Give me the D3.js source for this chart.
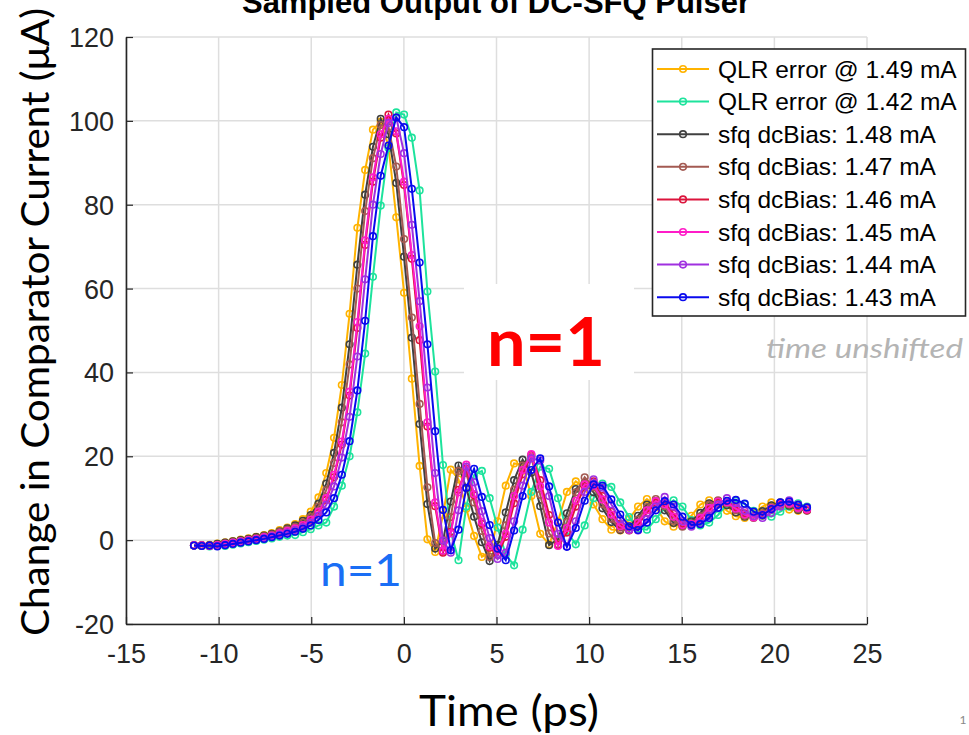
<!DOCTYPE html>
<html><head><meta charset="utf-8">
<script src="https://cdn.jsdelivr.net/npm/d3@7"></script>
<style>body{margin:0;background:#fff;} svg{display:block;}</style>
</head><body><svg id="c" width="969" height="735"></svg>
<script>
// ---- data ----
const timePs = [-11.33,-10.91,-10.49,-10.07,-9.65,-9.23,-8.81,-8.39,-7.97,-7.55,
-7.13,-6.71,-6.29,-5.87,-5.45,-5.03,-4.61,-4.19,-3.77,-3.35,
-2.93,-2.51,-2.09,-1.67,-1.25,-0.83,-0.41,0.01,0.43,0.85,
1.27,1.69,2.11,2.53,2.95,3.37,3.79,4.21,4.63,5.06,
5.50,5.95,6.41,6.88,7.36,7.84,8.32,8.80,9.28,9.76,
10.24,10.72,11.20,11.68,12.16,12.64,13.12,13.60,14.08,14.56,
15.04,15.52,16.00,16.48,16.96,17.44,17.92,18.40,18.88,19.36,
19.84,20.32,20.80,21.28,21.76];

const qlr149 = [-1.2,-1.4,-1.1,-0.8,-0.5,-0.2,0.1,0.4,0.8,1.2,
1.7,2.4,3.0,3.8,5.0,6.8,10.2,16.0,24.4,37.0,
54.0,74.5,88.3,97.9,99.8,94.0,77.0,59.0,38.5,17.7,
0.2,-2.8,6.0,16.8,14.5,7.5,1.0,-4.0,-3.0,4.5,
13.0,18.3,18.0,10.5,1.5,-1.0,4.5,11.5,14.0,12.5,
8.5,5.0,2.5,2.3,5.0,8.0,9.8,8.0,4.5,3.2,
4.0,5.8,8.5,9.5,8.8,7.0,5.7,5.3,6.5,8.0,
9.0,8.5,7.3,7.0,7.5];

const qlr142 = [-1.3,-1.4,-1.5,-1.3,-1.4,-1.1,-0.8,-0.5,-0.2,0.1,
0.4,0.8,1.1,1.2,1.9,2.6,3.5,4.2,8.0,13.0,
20.0,30.5,44.5,62.8,79.8,93.5,102.0,101.5,96.0,83.4,
59.3,40.2,17.9,2.0,-4.8,8.0,15.5,16.5,10.0,3.0,
-3.5,-6.0,2.5,11.5,17.5,17.0,10.0,2.0,-1.0,3.5,
10.0,13.5,12.7,9.0,5.5,2.8,2.5,5.0,7.8,9.5,
8.0,4.8,3.5,4.2,6.0,8.5,9.4,8.6,7.0,5.8,
5.6,6.8,8.0,8.8,8.0];

const sfq148 = [-1.3,-1.3,-1.2,-0.9,-0.6,-0.3,0.0,0.3,0.7,1.1,
1.5,2.1,2.8,3.5,4.6,6.0,8.7,13.5,20.8,31.6,
46.7,65.7,82.4,93.8,100.5,96.8,85.2,67.6,48.3,27.7,
8.6,-2.0,-0.2,9.2,17.8,12.4,5.6,-0.5,-5.0,-1.1,
6.6,14.3,19.2,16.1,8.1,-1.2,0.2,6.4,12.2,13.6,
11.4,7.6,4.3,2.4,3.0,5.8,8.5,9.3,7.1,4.1,
3.4,4.5,6.5,8.8,9.3,8.3,6.6,5.6,5.6,6.9,
8.3,8.9,8.2,7.2,7.1];

const sfq147 = [-1.3,-1.3,-1.4,-1.1,-0.8,-0.5,-0.2,0.1,0.5,0.9,
1.3,1.9,2.5,3.2,4.2,5.5,8.0,11.9,18.4,28.1,
41.9,60.0,78.5,91.1,99.0,98.5,89.1,71.8,53.1,32.5,
12.6,-0.7,-2.6,5.5,16.5,16.0,9.0,2.2,-4.0,-3.5,
3.5,12.0,17.8,19.8,10.8,1.6,-1.0,4.3,11.4,15.0,
12.6,8.6,5.1,2.6,2.3,4.9,7.9,9.8,8.1,4.6,
3.2,4.0,5.7,8.4,9.5,8.8,7.1,5.8,5.3,6.4,
7.9,9.0,8.5,7.4,7.0];

const sfq146 = [-1.3,-1.2,-1.4,-1.3,-1.0,-0.7,-0.4,-0.1,0.2,0.6,
1.0,1.5,2.1,2.7,3.5,4.7,6.5,9.6,15.0,22.8,
34.5,50.6,70.4,85.5,96.0,101.5,97.0,84.7,67.1,47.7,
27.1,8.1,-3.0,2.0,12.0,17.0,10.7,3.9,-1.8,-3.5,
0.8,8.8,15.7,20.3,14.3,6.0,-1.2,1.8,8.0,12.8,
14.0,10.5,6.8,3.8,2.4,3.7,6.5,8.9,8.9,6.3,
3.9,3.6,4.9,7.2,9.0,9.2,7.9,6.4,5.5,5.9,
7.3,8.5,8.8,7.9,7.2];

const sfq145 = [-1.2,-1.3,-1.4,-1.2,-0.9,-0.6,-0.3,0.0,0.3,0.7,
1.1,1.6,2.2,2.8,3.6,4.9,6.8,10.0,15.6,23.5,
35.4,52.0,71.5,86.5,96.8,100.5,97.5,85.5,68.0,51.0,
28.1,9.0,-2.5,1.6,11.4,18.0,11.0,4.3,-1.5,-2.5,
1.5,10.5,16.7,20.5,12.8,4.2,-1.4,2.9,9.4,13.3,
13.0,9.7,6.1,3.3,2.4,4.2,7.1,9.3,8.5,5.6,
3.6,3.8,5.3,7.7,9.2,9.0,7.5,6.1,5.4,6.1,
7.6,8.7,8.7,7.7,7.3];

const sfq144 = [-1.3,-1.3,-1.3,-1.4,-1.1,-0.8,-0.5,-0.2,0.1,0.5,
0.9,1.3,1.8,2.4,3.1,4.2,5.8,8.4,12.8,19.7,
29.4,43.8,62.2,80.0,92.1,99.5,100.8,92.3,75.2,57.0,
36.4,16.0,-0.1,-3.0,7.1,17.5,13.8,6.9,0.5,-4.5,
-3.0,4.5,13.0,19.5,19.0,10.5,1.5,-1.5,4.5,11.5,
14.5,12.5,8.5,5.0,2.5,2.3,5.0,8.0,10.3,8.0,
4.5,3.2,4.0,5.8,8.5,10.0,8.8,7.0,5.7,5.3,
6.5,8.0,9.5,8.5,7.8];

const sfq143 = [-1.3,-1.4,-1.3,-1.5,-1.2,-0.9,-0.6,-0.3,0.0,0.3,
0.7,1.1,1.5,2.0,2.7,3.5,4.8,6.6,10.0,15.6,
23.6,35.7,52.3,72.5,86.9,94.1,100.8,98.5,83.8,66.2,
46.7,26.0,7.2,-2.4,2.5,12.5,17.0,10.3,3.6,-2.0,
-4.8,2.3,10.5,16.7,19.5,12.8,4.2,-1.6,2.9,9.4,
13.3,13.0,9.7,6.1,3.3,2.4,4.2,7.1,9.3,8.5,
5.6,3.6,3.8,5.3,7.7,9.4,9.6,8.7,6.8,6.0,
7.4,9.0,9.2,8.4,7.8];

const seriesNames = ["QLR error @ 1.49 mA","QLR error @ 1.42 mA","sfq dcBias: 1.48 mA","sfq dcBias: 1.47 mA",
  "sfq dcBias: 1.46 mA","sfq dcBias: 1.45 mA","sfq dcBias: 1.44 mA","sfq dcBias: 1.43 mA"];
const seriesValues = [qlr149, qlr142, sfq148, sfq147, sfq146, sfq145, sfq144, sfq143];
const seriesColors = ["#FFB300","#1DE39C","#404040","#A35A52","#DC143C","#FF1CC8","#A030E0","#0A0AEE"];
const xTicks = [-15,-10,-5,0,5,10,15,20,25];
const yTicks = [-20,0,20,40,60,80,100,120];

// ---- chart ----
const svg = d3.select("#c");
const x = d3.scaleLinear().domain([-15,25]).range([126,867]);
const y = d3.scaleLinear().domain([-20,120]).range([624,37]);
const axisCol = "#262626";
const fmt = d => String(d);

// grid
const g = svg.append("g");
g.selectAll("line.vx").data(xTicks).enter().append("line")
  .attr("x1",d=>x(d)).attr("x2",d=>x(d)).attr("y1",y(-20)).attr("y2",y(120))
  .attr("stroke","#dedede").attr("stroke-width",1.5);
g.selectAll("line.hy").data(yTicks).enter().append("line")
  .attr("y1",d=>y(d)).attr("y2",d=>y(d)).attr("x1",x(-15)).attr("x2",x(25))
  .attr("stroke","#dedede").attr("stroke-width",1.5);

// axes (ticks inward)
const xAxis = d3.axisBottom(x).tickValues(xTicks).tickFormat(fmt).tickSizeInner(-7).tickSizeOuter(0).tickPadding(20);
const yAxis = d3.axisLeft(y).tickValues(yTicks).tickFormat(fmt).tickSizeInner(-7).tickSizeOuter(0).tickPadding(12);
const gx = svg.append("g").attr("transform",`translate(0,${y(-20)})`).call(xAxis);
const gy = svg.append("g").attr("transform",`translate(${x(-15)},0)`).call(yAxis);
[gx,gy].forEach(a=>{
  a.select(".domain").attr("stroke",axisCol).attr("stroke-width",1.6);
  a.selectAll(".tick line").attr("stroke",axisCol).attr("stroke-width",1.2);
  a.selectAll(".tick text").attr("fill",axisCol).style("font-family","'Liberation Sans', Arial, sans-serif").style("font-size","27px");
});
gx.selectAll(".tick text").attr("dy","0.71em");
gy.selectAll(".tick text").attr("dy","0.35em");

// series
const line = d3.line().x((d,i)=>x(timePs[i])).y(d=>y(d));
seriesValues.forEach((vals,si)=>{
  const sg = svg.append("g");
  sg.append("path").datum(vals).attr("d",line).attr("fill","none")
    .attr("stroke",seriesColors[si]).attr("stroke-width",2);
  sg.selectAll("circle").data(vals).enter().append("circle")
    .attr("cx",(d,i)=>x(timePs[i])).attr("cy",d=>y(d)).attr("r",3.3)
    .attr("fill","none").attr("stroke",seriesColors[si]).attr("stroke-width",1.6);
});

// title (partly cut off at the top, as in the reference)
svg.append("text").attr("x",496).attr("y",13).attr("text-anchor","middle")
  .style("font-family","'Liberation Sans', Arial, sans-serif").style("font-size","31px").style("font-weight","bold")
  .attr("fill","#000").text("Sampled Output of DC-SFQ Pulser");

// legend
const lg = svg.append("g");
lg.append("rect").attr("x",652.5).attr("y",49).attr("width",313).attr("height",267)
  .attr("fill","#fff").attr("stroke",axisCol).attr("stroke-width",1.6);
seriesNames.forEach((nm,i)=>{
  const cy = 69 + i*32.6;
  lg.append("line").attr("x1",657).attr("x2",709).attr("y1",cy).attr("y2",cy)
    .attr("stroke",seriesColors[i]).attr("stroke-width",2);
  lg.append("circle").attr("cx",683).attr("cy",cy).attr("r",3.3).attr("fill","none")
    .attr("stroke",seriesColors[i]).attr("stroke-width",1.6);
  lg.append("text").attr("x",718).attr("y",cy+8.5)
    .style("font-family","'Liberation Sans', Arial, sans-serif").style("font-size","24.5px")
    .attr("fill","#000").text(nm);
});

// annotations
svg.append("rect").attr("x",464).attr("y",284).attr("width",170).attr("height",96).attr("fill","#fff");
svg.append("text").attr("x",487).attr("y",366).attr("textLength",118).attr("lengthAdjust","spacingAndGlyphs")
  .style("font-family","Lato, 'Open Sans', sans-serif").style("font-size","66px").style("font-weight","bold")
  .attr("fill","#FF0000").text("n=1");
svg.append("text").attr("x",766).attr("y",358).attr("textLength",197).attr("lengthAdjust","spacingAndGlyphs")
  .style("font-family","Lato, 'Open Sans', sans-serif").style("font-size","27px").style("font-style","italic")
  .attr("fill","#B4B4B4").text("time unshifted");
svg.append("text").attr("x",320).attr("y",586).attr("textLength",82).attr("lengthAdjust","spacingAndGlyphs")
  .style("font-family","Lato, 'Open Sans', sans-serif").style("font-size","45px")
  .attr("fill","#1A6EF5").text("n=1");

// axis titles
svg.append("text").attr("transform","translate(49,322) rotate(-90)").attr("text-anchor","middle")
  .attr("textLength",628).attr("lengthAdjust","spacingAndGlyphs")
  .style("font-family","Lato, 'Open Sans', sans-serif").style("font-size","38px")
  .attr("fill","#000").text("Change in Comparator Current (μA)");
svg.append("text").attr("x",509).attr("y",726).attr("text-anchor","middle")
  .attr("textLength",180).attr("lengthAdjust","spacingAndGlyphs")
  .style("font-family","Lato, 'Open Sans', sans-serif").style("font-size","42px")
  .attr("fill","#000").text("Time (ps)");
svg.append("text").attr("x",963).attr("y",724).attr("text-anchor","middle")
  .style("font-family","Lato, sans-serif").style("font-size","12px").attr("fill","#888").text("1");
</script></body></html>
